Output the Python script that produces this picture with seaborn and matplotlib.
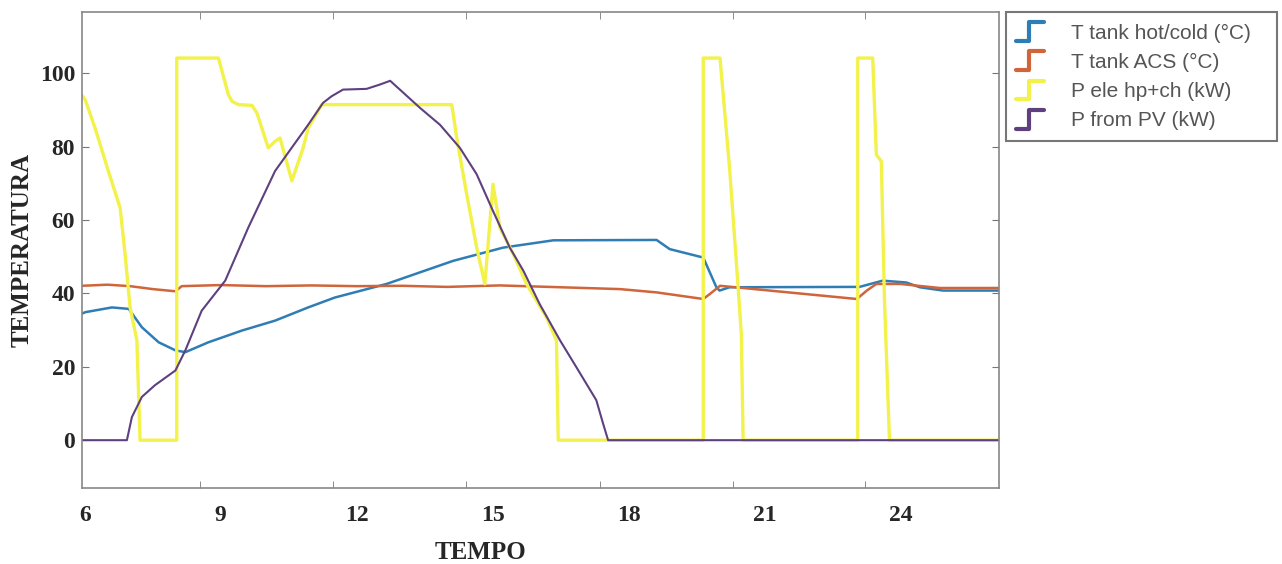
import numpy as np
import pandas as pd
import matplotlib
matplotlib.use("Agg")
import matplotlib.pyplot as plt
import seaborn as sns
from matplotlib.legend_handler import HandlerBase
from matplotlib.lines import Line2D

# time (h) and values
t_hot = [5.94, 6.01, 6.6, 6.97, 7.26, 7.63, 8.0, 8.22, 8.73, 9.47, 10.2, 10.93, 11.52,
         12.66, 14.13, 15.23, 16.34, 18.62, 18.91, 19.65, 19.94, 20.01, 20.23, 23.1,
         23.61, 24.13, 24.43, 24.94, 26.17]
v_hot = [34.5, 34.9, 36.2, 35.8, 30.8, 26.7, 24.5, 24.0, 26.7, 29.9, 32.6, 36.2, 38.9,
         42.6, 48.9, 52.5, 54.5, 54.6, 52.1, 49.8, 41.7, 40.8, 41.7, 41.8,
         43.5, 43.0, 41.7, 40.8, 40.8]

t_acs = [5.94, 6.5, 7.0, 7.5, 8.0, 8.14, 9.0, 10.0, 11.0, 12.0, 13.0, 14.0, 15.16,
         16.24, 17.81, 18.62, 19.65, 19.8, 20.02, 23.04, 23.26, 23.47, 24.0, 24.87, 26.17]
v_acs = [42.1, 42.4, 42.0, 41.2, 40.6, 42.0, 42.3, 42.0, 42.2, 42.0, 42.1, 41.8, 42.2,
         41.8, 41.2, 40.3, 38.5, 39.9, 42.1, 38.5, 40.8, 42.6, 42.6, 41.5, 41.5]

t_ele = [5.94, 6.01, 6.23, 6.52, 6.78, 6.89, 7.0, 7.15, 7.22, 8.03, 8.03, 8.95, 9.17,
         9.25, 9.39, 9.69, 9.8, 10.05, 10.2, 10.31, 10.57, 10.82, 10.93, 11.23, 14.1,
         14.21, 14.43, 14.65, 14.83, 15.01, 15.16, 15.46, 15.75, 16.19, 16.41, 16.45,
         19.65, 19.65, 20.02, 20.23, 20.42, 20.49, 20.53, 23.06, 23.06, 23.39, 23.47,
         23.58, 23.65, 23.76, 26.17]
v_ele = [94.0, 92.8, 85.0, 73.4, 63.4, 50.7, 36.2, 27.2, 0.0, 0.0, 104.2, 104.2, 94.2,
         92.4, 91.5, 91.3, 89.2, 79.7, 81.5, 82.4, 70.7, 79.7, 85.1, 91.5, 91.5,
         82.4, 67.0, 52.5, 42.6, 69.8, 58.0, 50.7, 42.6, 33.5, 27.2, 0.0,
         0.0, 104.2, 104.2, 74.3, 41.7, 29.0, 0.0, 0.0, 104.2, 104.2, 77.9,
         76.0, 38.0, 0.0, 0.0]

t_pv = [5.94, 6.93, 7.04, 7.26, 7.55, 8.0, 8.22, 8.58, 9.1, 9.61, 10.2, 10.93, 11.26,
        11.45, 11.7, 12.22, 12.52, 12.74, 13.4, 13.84, 14.28, 14.65, 15.01, 15.38,
        15.68, 16.04, 16.49, 16.85, 17.29, 17.44, 17.55, 26.17]
v_pv = [0.0, 0.0, 6.3, 11.8, 15.0, 19.0, 24.5, 35.3, 43.5, 58.0, 73.4, 86.0, 92.0,
        93.8, 95.6, 95.8, 97.0, 98.0, 90.6, 86.0, 79.7, 72.5, 62.5, 52.5,
        46.2, 37.1, 27.2, 19.9, 10.9, 4.5, 0.0, 0.0]

names = ["T tank hot/cold (°C)", "T tank ACS (°C)", "P ele hp+ch (kW)", "P from PV (kW)"]
colors = ["#2f7db5", "#d0643a", "#f2f24a", "#5e4080"]
widths = [1.8, 1.8, 2.4, 1.5]

frames = []
for name, t, v in zip(names, [t_hot, t_acs, t_ele, t_pv], [v_hot, v_acs, v_ele, v_pv]):
    frames.append(pd.DataFrame({"t": t, "v": v, "serie": name}))
df = pd.concat(frames, ignore_index=True)

sns.set_style("white")
plt.rcParams["font.family"] = ["Liberation Serif", "DejaVu Serif"]

fig = plt.figure(figsize=(12.82, 5.64), dpi=100)
ax = fig.add_axes([0.064, 0.135, 0.715, 0.844])

for name, col, lw in zip(names, colors, widths):
    sns.lineplot(data=df[df["serie"] == name], x="t", y="v", color=col, lw=lw,
                 sort=False, estimator=None, ax=ax, legend=False)

ax.set_xlim(5.94, 26.17)
ax.set_ylim(-13, 116.8)

# labels at hours, the scope's own tick marks sit elsewhere
ax.set_xticks([6, 9, 12, 15, 18, 21, 24])
ax.set_xticks([8.55, 11.48, 14.41, 17.37, 20.3, 23.23], minor=True)
ax.tick_params(axis="x", which="major", length=0, pad=12, labelsize=17)
ax.tick_params(axis="x", which="minor", direction="in", length=5, top=True,
               bottom=True, color="#777777")
ax.set_yticks([0, 20, 40, 60, 80, 100])
ax.tick_params(axis="y", direction="in", length=5, left=True, right=True,
               labelsize=17, pad=5, color="#777777")
for lab in ax.get_xticklabels() + ax.get_yticklabels():
    lab.set_fontweight("bold")

ax.set_xlabel("TEMPO", fontsize=18, fontweight="bold")
ax.set_ylabel("TEMPERATURA", fontsize=18, fontweight="bold")
ax.xaxis.set_label_coords(0.435, -0.112)
ax.yaxis.set_label_coords(-0.053, 0.5)

for sp in ax.spines.values():
    sp.set_color("#888888")
    sp.set_linewidth(1.2)


class StepHandler(HandlerBase):
    def create_artists(self, legend, orig_handle, xdescent, ydescent, width, height,
                       fontsize, trans):
        x0, y0 = -xdescent, -ydescent
        xm = x0 + 0.45 * width
        ln = Line2D([x0, xm, xm, x0 + width], [y0, y0, y0 + height, y0 + height],
                    color=orig_handle.get_color(), lw=3, transform=trans)
        return [ln]


handles = [Line2D([], [], color=c) for c in colors]
leg = ax.legend(handles, names, handler_map={Line2D: StepHandler()},
                loc="upper left", bbox_to_anchor=(1.008, 1.0, 0.2955, 0), mode="expand",
                borderaxespad=0, frameon=True, fancybox=False, edgecolor="#555555",
                handlelength=1.3, handleheight=1.0, handletextpad=1.3,
                labelspacing=0.42, borderpad=0.5,
                prop={"family": "Liberation Sans", "size": 15})
leg.get_frame().set_linewidth(1.5)
for txt in leg.get_texts():
    txt.set_color("#555555")

fig.savefig("out.png", dpi=100)
